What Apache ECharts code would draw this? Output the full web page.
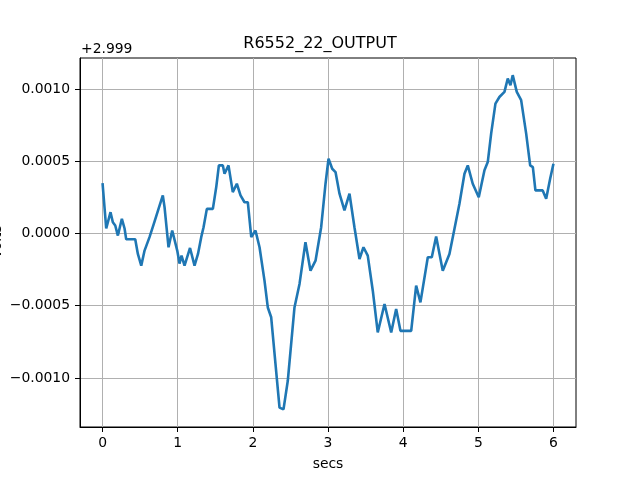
<!DOCTYPE html>
<html>
<head>
<meta charset="utf-8">
<script src="https://cdn.jsdelivr.net/npm/echarts@6/dist/echarts.min.js"></script>
<style>html,body{margin:0;padding:0;background:#fff}#c{width:640px;height:480px}</style>
</head>
<body>
<div id="c"></div>
<script>
// Offset shown by the axis (matplotlib offset text)
const OFFSET_TEXT = "+2.999";
// Time in seconds
const times = [0.0,0.049,0.106,0.137,0.169,0.204,0.257,0.293,0.315,0.435,0.47,0.515,0.559,0.625,0.682,0.745,0.802,0.825,0.878,0.927,0.994,1.024,1.051,1.091,1.164,1.224,1.27,1.313,1.344,1.388,1.468,1.513,1.548,1.601,1.623,1.676,1.733,1.787,1.836,1.889,1.933,1.979,2.035,2.089,2.155,2.199,2.244,2.355,2.408,2.465,2.554,2.621,2.7,2.767,2.834,2.909,2.967,3.007,3.056,3.1,3.153,3.219,3.286,3.352,3.419,3.472,3.529,3.596,3.662,3.752,3.841,3.907,3.964,4.107,4.173,4.23,4.328,4.381,4.439,4.527,4.616,4.683,4.749,4.816,4.86,4.926,5.006,5.082,5.126,5.171,5.228,5.281,5.348,5.392,5.428,5.458,5.512,5.57,5.637,5.69,5.726,5.76,5.857,5.903,5.956,6.0];
// Volts minus 2.999
const volts = [0.00035,0.000035,0.000148,0.000078,0.000056,-0.000014,0.000102,0.000035,-0.00004,-0.00004,-0.000141,-0.000222,-0.000118,-0.000025,0.000067,0.000171,0.000264,0.000183,-0.000095,0.000021,-0.000118,-0.000208,-0.000153,-0.000222,-0.0001,-0.000222,-0.000141,-0.000025,0.000044,0.000171,0.000171,0.000322,0.000472,0.000472,0.000414,0.000472,0.000287,0.000345,0.000264,0.000217,0.000217,-0.000025,0.000021,-0.000095,-0.000326,-0.000512,-0.00058,-0.001206,-0.001218,-0.00102,-0.000512,-0.000349,-0.00006,-0.000257,-0.000188,0.000044,0.000345,0.000519,0.000449,0.000426,0.000276,0.00016,0.000276,0.000044,-0.000176,-0.000095,-0.000153,-0.000396,-0.000685,-0.000488,-0.000685,-0.000523,-0.000674,-0.000674,-0.000361,-0.000477,-0.000164,-0.000164,-0.000021,-0.000257,-0.000141,0.000033,0.000206,0.000414,0.000472,0.000345,0.000252,0.000438,0.000495,0.000692,0.0009,0.000946,0.000981,0.001074,0.001028,0.001097,0.000981,0.000924,0.000692,0.000472,0.00046,0.000299,0.000299,0.000241,0.00038,0.000484];
const xTicks = [0,1,2,3,4,5,6];
const yTicks = [-0.0010,-0.0005,0.0,0.0005,0.0010];

const chart = echarts.init(document.getElementById('c'), null, {renderer:'canvas'});
const FONT = 'DejaVu Sans';
const fmtY = v => { const s = (Math.abs(v) < 1e-12 ? 0 : v).toFixed(4); return s.replace('-', '\u2212'); };
chart.setOption({
  animation:false,
  backgroundColor:'#fff',
  title:{text:'R6552_22_OUTPUT',left:'center',top:36,textStyle:{fontFamily:FONT,fontSize:16,fontWeight:'normal',color:'#000'},itemGap:0,padding:0},
  grid:{left:80,right:64,top:58,bottom:53,show:true,borderColor:'#000',borderWidth:1,backgroundColor:'transparent'},
  xAxis:{type:'value',min:-0.3,max:6.3,
    name:'secs',nameLocation:'middle',nameGap:30,nameTextStyle:{fontFamily:FONT,fontSize:13.9,color:'#000'},
    axisLine:{show:true,onZero:false,lineStyle:{color:'#000',width:1}},
    axisTick:{show:true,length:5,customValues:xTicks,lineStyle:{color:'#000',width:1}},
    axisLabel:{customValues:xTicks,margin:9,fontFamily:FONT,fontSize:13.9,color:'#000',formatter:v=>String(Math.round(v))},
    splitLine:{show:true,lineStyle:{color:'#b0b0b0',width:1}}},
  yAxis:{type:'value',min:-0.00134,max:0.001216,
    axisLine:{show:true,onZero:false,lineStyle:{color:'#000',width:1}},
    axisTick:{show:true,length:5,customValues:yTicks,lineStyle:{color:'#000',width:1}},
    axisLabel:{customValues:yTicks,margin:10,fontFamily:FONT,fontSize:13.9,color:'#000',formatter:fmtY},
    splitLine:{show:true,lineStyle:{color:'#b0b0b0',width:1}}},
  graphic:[
    {type:'text',left:81,top:42,style:{text:OFFSET_TEXT,fontFamily:FONT,fontSize:13.9,fill:'#000'}},
    {type:'text',x:-3,y:242,rotation:Math.PI/2,style:{text:'Volts',fontFamily:FONT,fontSize:13.9,fill:'#000',align:'center',verticalAlign:'middle'}}
  ],
  series:[{type:'line',data:times.map((t,i)=>[t,volts[i]]),showSymbol:false,symbol:'none',
    lineStyle:{color:'#1f77b4',width:2.6},itemStyle:{color:'#1f77b4'}}]
});
</script>
</body>
</html>
